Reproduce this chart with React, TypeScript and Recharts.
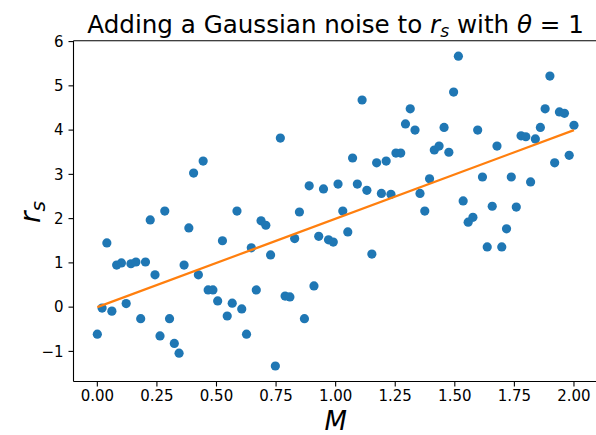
import { ScatterChart, Scatter, XAxis, YAxis, Label, ReferenceLine } from 'recharts';

// M sampled evenly on [0, 2], 100 points
const mValues = [
  0.0, 0.02, 0.04, 0.061, 0.081, 0.101, 0.121, 0.141, 0.162, 0.182,
  0.202, 0.222, 0.242, 0.263, 0.283, 0.303, 0.323, 0.343, 0.364, 0.384,
  0.404, 0.424, 0.444, 0.465, 0.485, 0.505, 0.525, 0.545, 0.566, 0.586,
  0.606, 0.626, 0.646, 0.667, 0.687, 0.707, 0.727, 0.747, 0.768, 0.788,
  0.808, 0.828, 0.848, 0.869, 0.889, 0.909, 0.929, 0.949, 0.97, 0.99,
  1.01, 1.03, 1.051, 1.071, 1.091, 1.111, 1.131, 1.152, 1.172, 1.192,
  1.212, 1.232, 1.253, 1.273, 1.293, 1.313, 1.333, 1.354, 1.374, 1.394,
  1.414, 1.434, 1.455, 1.475, 1.495, 1.515, 1.535, 1.556, 1.576, 1.596,
  1.616, 1.636, 1.657, 1.677, 1.697, 1.717, 1.737, 1.758, 1.778, 1.798,
  1.818, 1.838, 1.859, 1.879, 1.899, 1.919, 1.939, 1.96, 1.98, 2.0,
];

// noisy r_s readings
const rsValues = [
  -0.61, -0.02, 1.45, -0.09, 0.95, 1.0, 0.08, 0.98, 1.02, -0.26,
  1.02, 1.97, 0.73, -0.65, 2.17, -0.26, -0.82, -1.04, 0.95, 1.79,
  3.03, 0.73, 3.3, 0.39, 0.39, 0.14, 1.5, -0.2, 0.09, 2.17,
  -0.04, -0.61, 1.34, 0.39, 1.95, 1.85, 1.18, -1.33, 3.82, 0.25,
  0.23, 1.55, 2.15, -0.26, 2.74, 0.48, 1.6, 2.67, 1.52, 1.47,
  2.78, 2.17, 1.7, 3.37, 2.78, 4.68, 2.64, 1.2, 3.26, 2.57,
  3.3, 2.55, 3.48, 3.48, 4.14, 4.48, 4.0, 2.57, 2.17, 2.9,
  3.55, 3.64, 4.06, 3.5, 4.86, 5.67, 2.4, 1.92, 2.03, 4.0,
  2.94, 1.36, 2.28, 3.64, 1.36, 1.77, 2.94, 2.26, 3.87, 3.85,
  2.83, 3.8, 4.06, 4.48, 5.22, 3.26, 4.41, 4.38, 3.43, 4.11,
];

// r_s = 2M
const lineM = [0, 2];
const lineRs = [0, 4];

const xTicks = [0, 0.25, 0.5, 0.75, 1, 1.25, 1.5, 1.75, 2];
const yTicks = [-1, 0, 1, 2, 3, 4, 5, 6];

const points = mValues.map((m, i) => ({ M: m, r: rsValues[i] }));
const linePoints = lineM.map((m, i) => ({ M: m, r: lineRs[i] }));

const FONT = 'DejaVu Sans, sans-serif';
const tickStyle = { fontSize: 15, fill: '#000', fontFamily: FONT };

const fmtY = (v: number) => (v < 0 ? '\u2212' + Math.abs(v) : String(v));

export default function App() {
  return (
    <div style={{ position: 'absolute', left: 0, top: 0, width: 596, height: 435, overflow: 'hidden', background: '#fff' }}>
      <svg width={596} height={40} style={{ position: 'absolute', left: 0, top: 0 }}>
        <text x={335.6} y={33} textAnchor="middle" fontSize={24.6} fontFamily={FONT} fill="#000">
          <tspan>Adding a Gaussian noise to </tspan>
          <tspan fontStyle="italic">r</tspan>
          <tspan fontStyle="italic" fontSize={17.2} dy={4}>s</tspan>
          <tspan dy={-4}> with </tspan>
          <tspan fontStyle="italic">θ</tspan>
          <tspan> = 1</tspan>
        </text>
      </svg>
      <ScatterChart
        width={600}
        height={435}
        margin={{ top: 40.7, right: 2.2, bottom: 0, left: 0 }}
        style={{ position: 'absolute', left: 0, top: 0 }}
      >
        <XAxis
          dataKey="M"
          type="number"
          domain={[-0.1, 2.1]}
          allowDataOverflow
          ticks={xTicks}
          tickFormatter={(v: number) => v.toFixed(2)}
          height={53.5}
          tickSize={5}
          tickMargin={4}
          tick={tickStyle}
          tickLine={{ stroke: '#000', strokeWidth: 1.1 }}
          axisLine={{ stroke: '#000', strokeWidth: 1.1 }}
        >
          <Label
            content={() => (
              <text x={335.6} y={430} textAnchor="middle" fontSize={26} fontStyle="italic" fontFamily={FONT} fill="#000">
                M
              </text>
            )}
          />
        </XAxis>
        <YAxis
          dataKey="r"
          type="number"
          domain={[-1.68, 6.02]}
          allowDataOverflow
          ticks={yTicks}
          tickFormatter={fmtY}
          width={73.5}
          tickSize={5}
          tickMargin={5}
          tick={tickStyle}
          tickLine={{ stroke: '#000', strokeWidth: 1.1 }}
          axisLine={{ stroke: '#000', strokeWidth: 1.1 }}
        >
          <Label
            content={() => (
              <text
                x={40}
                y={212}
                textAnchor="middle"
                fontSize={28}
                fontFamily={FONT}
                fill="#000"
                transform="rotate(-90, 40, 212)"
              >
                <tspan fontStyle="italic">r</tspan>
                <tspan fontStyle="italic" fontSize={20} dy={5}>s</tspan>
              </text>
            )}
          />
        </YAxis>
        {/* top spine */}
        <ReferenceLine y={6.02} stroke="#000" strokeWidth={1.1} ifOverflow="visible" />
        <Scatter
          data={points}
          isAnimationActive={false}
          shape={(p: any) => <circle cx={p.cx} cy={p.cy} r={4.6} fill="#1f77b4" />}
        />
        <Scatter
          data={linePoints}
          isAnimationActive={false}
          line={{ stroke: '#ff7f0e', strokeWidth: 2.2 }}
          lineType="joint"
          shape={() => <g />}
        />
      </ScatterChart>
    </div>
  );
}
